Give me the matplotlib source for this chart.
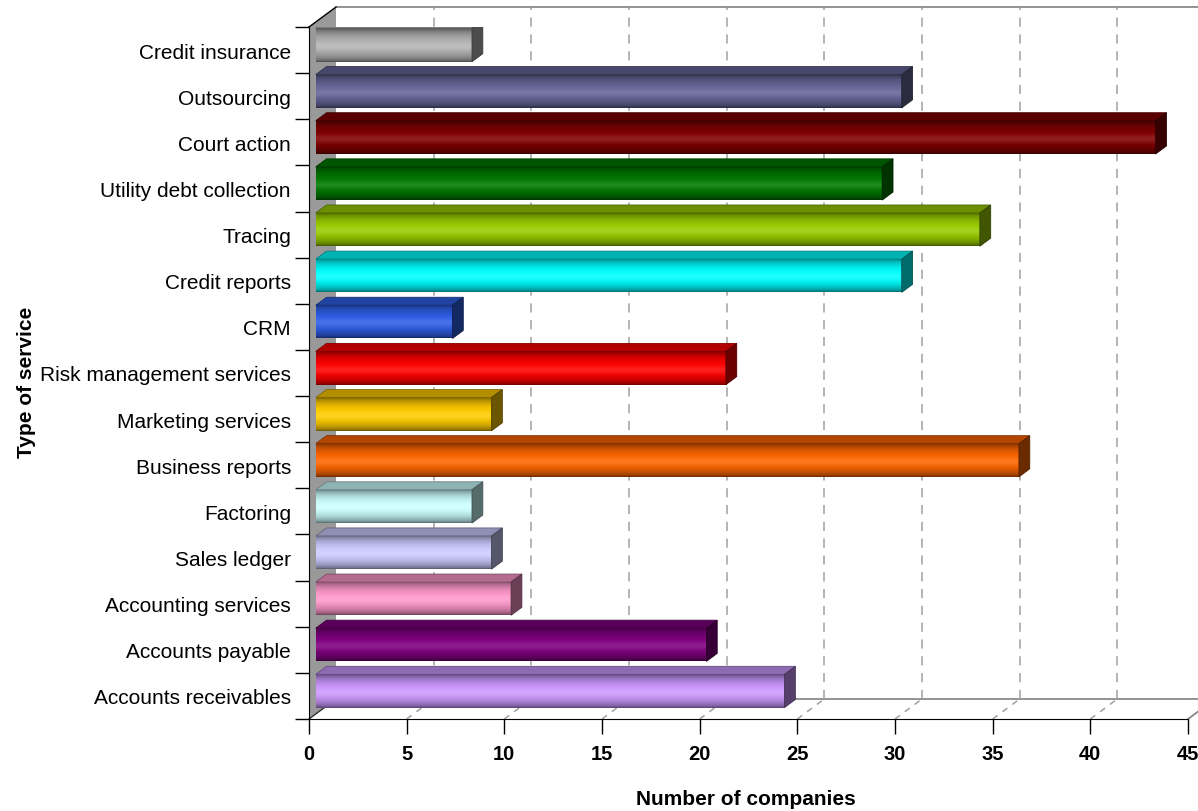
import numpy as np
import matplotlib
matplotlib.use('Agg')
import matplotlib.pyplot as plt
from matplotlib.patches import Polygon
from matplotlib.colors import to_rgb

plt.rcParams['font.family'] = ['Liberation Sans', 'DejaVu Sans']

# ---------------- data (bottom -> top) ----------------
services = ['Accounts receivables', 'Accounts payable', 'Accounting services',
            'Sales ledger', 'Factoring', 'Business reports', 'Marketing services',
            'Risk management services', 'CRM', 'Credit reports', 'Tracing',
            'Utility debt collection', 'Court action', 'Outsourcing', 'Credit insurance']
companies = [24, 20, 10, 9, 8, 36, 9, 21, 7, 30, 34, 29, 43, 30, 8]
colors = ['#cc99ff', '#800080', '#ff99cc', '#ccccff', '#ccffff', '#ff6600', '#ffcc00',
          '#ff0000', '#2f5fe8', '#00ffff', '#99cc00', '#007a00', '#800000', '#666699',
          '#b4b4b4']
xticks = [0, 5, 10, 15, 20, 25, 30, 35, 40, 45]

W, H = 1198, 812
fig = plt.figure(figsize=(W / 100, H / 100), dpi=100)
ax = fig.add_axes([309 / W, 92 / H, 879 / W, 692 / H])

XMAX = 45
n = len(services)
ylo, yhi = -0.5, n - 0.5
DX = 27 / 879 * XMAX      # depth of the 3d box, data units
DY = 20 / 692 * n
fx, fy = 0.25 * DX, 0.25 * DY   # bar front depth
bx, by = 0.65 * DX, 0.65 * DY   # bar back depth
h = 0.36                         # half bar height

# left wall
ax.add_patch(Polygon([(0, ylo), (DX, ylo + DY), (DX, yhi + DY), (0, yhi)],
                     closed=True, facecolor='#999999', edgecolor='none',
                     zorder=1, clip_on=False))
ax.plot([0, DX], [yhi, yhi + DY], color='black', lw=1, zorder=2, clip_on=False)
ax.plot([0, DX], [ylo, ylo + DY], color='#333333', lw=1, zorder=2, clip_on=False)

# back wall edges
ax.plot([DX, XMAX + 2 * DX], [yhi + DY, yhi + DY], color='#808080', lw=1.2,
        zorder=1, clip_on=False)
ax.plot([DX, XMAX + DX], [ylo + DY, ylo + DY], color='#808080', lw=1.2,
        zorder=1, clip_on=False)
ax.plot([XMAX, XMAX + DX], [ylo, ylo + DY], color='#808080', lw=1.2,
        zorder=1, clip_on=False)

# gridlines on back wall and floor
for v in xticks[1:-1]:
    ax.plot([v + DX, v + DX], [ylo + DY, yhi + DY], color='#a0a0a0', lw=1.1,
            ls=(0, (6, 5)), zorder=1, clip_on=False)
    ax.plot([v, v + DX], [ylo, ylo + DY], color='#a0a0a0', lw=1.1,
            ls=(0, (4, 4)), zorder=1, clip_on=False)

# bars with a cylinder-like shading
t = np.linspace(0, 1, 64)
prof = 0.42 + 0.58 * np.sin(np.pi * t) ** 0.6
sheen = 0.12 * np.exp(-((t - 0.45) / 0.12) ** 2)
for i, (v, c) in enumerate(zip(companies, colors)):
    base = np.array(to_rgb(c))
    img = prof[:, None, None] * base[None, None, :]
    img = img + sheen[:, None, None] * (1 - img)
    img = np.clip(img, 0, 1)
    ax.imshow(img, extent=[fx, v + fx, i - h + fy, i + h + fy], origin='lower',
              aspect='auto', interpolation='bilinear', zorder=3)
    top = [(fx, i + h + fy), (v + fx, i + h + fy), (v + bx, i + h + by), (bx, i + h + by)]
    ax.add_patch(Polygon(top, closed=True, facecolor=base * 0.7,
                         edgecolor=base * 0.5, lw=0.6, zorder=3))
    side = [(v + fx, i - h + fy), (v + bx, i - h + by), (v + bx, i + h + by), (v + fx, i + h + fy)]
    ax.add_patch(Polygon(side, closed=True, facecolor=base * 0.42,
                         edgecolor=base * 0.32, lw=0.6, zorder=3))

ax.set_xlim(0, XMAX)
ax.set_ylim(ylo, yhi)

for s in ['top', 'right']:
    ax.spines[s].set_visible(False)
ax.spines['left'].set_color('black')
ax.spines['bottom'].set_color('black')
ax.spines['left'].set_zorder(4)
ax.spines['bottom'].set_zorder(4)

ax.set_xticks(xticks)
ax.set_xticklabels([str(x) for x in xticks], fontsize=14.5, fontweight='bold')
ax.tick_params(axis='x', direction='out', length=11, width=1, pad=7)

ax.set_yticks(range(n))
ax.set_yticklabels(services, fontsize=15)
ax.set_yticks(np.arange(n + 1) - 0.5, minor=True)
ax.tick_params(axis='y', which='major', length=0, pad=13)
ax.tick_params(axis='y', which='minor', direction='out', length=10, width=1)

fig.text(746 / W, 1 - 800 / H, 'Number of companies', fontsize=15, fontweight='bold',
         ha='center', va='center')
fig.text(27 / W, 1 - 382 / H, 'Type of service', fontsize=15, fontweight='bold',
         ha='center', va='center', rotation=90)

fig.savefig('out.png', dpi=100)
